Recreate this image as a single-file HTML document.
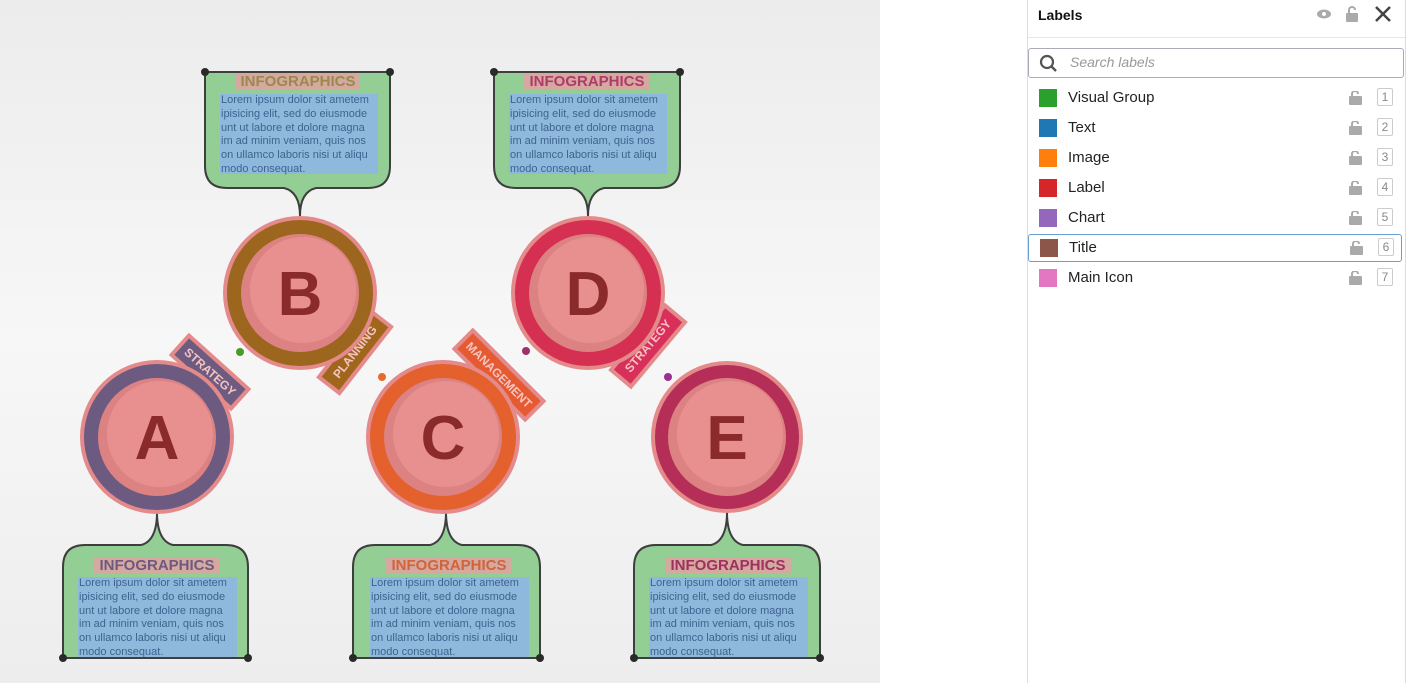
<!DOCTYPE html>
<html><head><meta charset="utf-8"><style>
body{margin:0;width:1406px;height:683px;overflow:hidden;background:#fff;font-family:"Liberation Sans",sans-serif;position:relative}
.t{position:absolute;font-weight:bold;font-size:15px;color:#9a8a4a;background:#d5a9a0;text-align:center;line-height:17px}
.b{position:absolute;font-size:11px;line-height:13.8px;color:#3f6290;background:#8fb9dc;white-space:pre;padding-left:1px}
.panel{position:absolute;left:1027px;top:0;width:377px;height:683px;border-left:1px solid #ddd;border-right:1px solid #ddd;background:#fff}
.row{position:absolute;left:0;width:373px;height:28px;font-size:15px;color:#222}
.row .sw{position:absolute;left:11px;top:5px;width:18px;height:18px}
.row .n{position:absolute;left:40px;top:5px}
.row .k{position:absolute;left:349px;top:4px;width:14px;height:16px;border:1px solid #ccc;border-radius:2px;font-size:12px;color:#888;text-align:center;line-height:16px}
.row .l{position:absolute;left:321px;top:7px}
</style></head><body>
<svg width="880" height="683" style="position:absolute;left:0;top:0">
<defs><linearGradient id="bg" x1="0" y1="0" x2="0" y2="1"><stop offset="0" stop-color="#ececec"/><stop offset="0.5" stop-color="#f7f7f7"/><stop offset="1" stop-color="#ededed"/></linearGradient></defs>
<rect width="880" height="683" fill="url(#bg)"/>
<g fill="#93cf95" stroke="#3e3e3e" stroke-width="2">
<path d="M205,72 L390,72 L390,166 Q390,188 368,188 L316,188 Q300,192 300,216 Q300,192 284,188 L227,188 Q205,188 205,166 Z"/>
<path d="M494,72 L680,72 L680,166 Q680,188 658,188 L604,188 Q588,192 588,216 Q588,192 572,188 L516,188 Q494,188 494,166 Z"/>
<path d="M63,658 L63,567 Q63,545 85,545 L141,545 Q157,541 157,512 Q157,541 173,545 L226,545 Q248,545 248,567 L248,658 Z"/>
<path d="M353,658 L353,567 Q353,545 375,545 L430,545 Q446,541 446,512 Q446,541 462,545 L518,545 Q540,545 540,567 L540,658 Z"/>
<path d="M634,658 L634,567 Q634,545 656,545 L711,545 Q727,541 727,512 Q727,541 743,545 L798,545 Q820,545 820,567 L820,658 Z"/>
</g>
<g fill="#2a2a2a"><circle cx="205" cy="72" r="4"/><circle cx="390" cy="72" r="4"/><circle cx="494" cy="72" r="4"/><circle cx="680" cy="72" r="4"/>
<circle cx="63" cy="658" r="4"/><circle cx="248" cy="658" r="4"/><circle cx="353" cy="658" r="4"/><circle cx="540" cy="658" r="4"/><circle cx="634" cy="658" r="4"/><circle cx="820" cy="658" r="4"/></g>
<g font-family="Liberation Sans" font-weight="bold" font-size="12" fill="#f4c4c4" text-anchor="middle">
<g transform="translate(210,372) rotate(42)"><rect x="-40" y="-13" width="80" height="26" fill="#6e5b80" stroke="#e48a8a" stroke-width="4"/><text y="4">STRATEGY</text></g>
<g transform="translate(355,352) rotate(-52)"><rect x="-42" y="-13" width="84" height="26" fill="#a0661c" stroke="#e48a8a" stroke-width="4"/><text y="4">PLANNING</text></g>
<g transform="translate(499,375) rotate(45)"><rect x="-50" y="-13" width="100" height="26" fill="#e55a30" stroke="#e48a8a" stroke-width="4"/><text y="4">MANAGEMENT</text></g>
<g transform="translate(648,346) rotate(-50)"><rect x="-42" y="-13" width="84" height="26" fill="#d8305a" stroke="#e48a8a" stroke-width="4"/><text y="4">STRATEGY</text></g>
</g>
<circle cx="240" cy="352" r="4" fill="#4a9a2a"/><circle cx="382" cy="377" r="4" fill="#e86a2a"/><circle cx="526" cy="351" r="4" fill="#a0306a"/><circle cx="668" cy="377" r="4" fill="#9a3090"/>
<g font-family="Liberation Sans" font-weight="bold" font-size="62" fill="#8a2a2a" text-anchor="middle">
<g transform="translate(300,293)"><circle r="77" fill="#e48a8a"/><circle r="73" fill="#9c661e"/><circle r="59" fill="#dc8282"/><circle cx="3" cy="-3" r="53" fill="#e89090"/><text y="22">B</text></g>
<g transform="translate(588,293)"><circle r="77" fill="#e48a8a"/><circle r="73" fill="#d52f52"/><circle r="59" fill="#dc8282"/><circle cx="3" cy="-3" r="53" fill="#e89090"/><text y="22">D</text></g>
<g transform="translate(157,437)"><circle r="77" fill="#e48a8a"/><circle r="73" fill="#6c5a80"/><circle r="59" fill="#dc8282"/><circle cx="3" cy="-3" r="53" fill="#e89090"/><text y="22">A</text></g>
<g transform="translate(443,437)"><circle r="77" fill="#e48a8a"/><circle r="73" fill="#e4602c"/><circle r="59" fill="#dc8282"/><circle cx="3" cy="-3" r="53" fill="#e89090"/><text y="22">C</text></g>
<g transform="translate(727,437)"><circle r="76" fill="#e48a8a"/><circle r="72" fill="#b42e58"/><circle r="59" fill="#dc8282"/><circle cx="3" cy="-3" r="53" fill="#e89090"/><text y="22">E</text></g>
</g>
</svg>
<div class="t" style="left:236px;top:73px;width:124px">INFOGRAPHICS</div>
<div class="b" style="left:220px;top:94px;width:157px;height:80px">Lorem ipsum dolor sit ametem
ipisicing elit, sed do eiusmode
unt ut labore et dolore magna
im ad minim veniam, quis nos
on ullamco laboris nisi ut aliqu
modo consequat.</div>
<div class="t" style="left:524px;top:73px;width:126px;color:#b03a6a">INFOGRAPHICS</div>
<div class="b" style="left:509px;top:94px;width:157px;height:80px">Lorem ipsum dolor sit ametem
ipisicing elit, sed do eiusmode
unt ut labore et dolore magna
im ad minim veniam, quis nos
on ullamco laboris nisi ut aliqu
modo consequat.</div>
<div class="t" style="left:94px;top:557px;width:126px;color:#6e5a80">INFOGRAPHICS</div>
<div class="b" style="left:78px;top:577px;width:158px;height:80px">Lorem ipsum dolor sit ametem
ipisicing elit, sed do eiusmode
unt ut labore et dolore magna
im ad minim veniam, quis nos
on ullamco laboris nisi ut aliqu
modo consequat.</div>
<div class="t" style="left:386px;top:557px;width:126px;color:#d0643a">INFOGRAPHICS</div>
<div class="b" style="left:370px;top:577px;width:158px;height:80px">Lorem ipsum dolor sit ametem
ipisicing elit, sed do eiusmode
unt ut labore et dolore magna
im ad minim veniam, quis nos
on ullamco laboris nisi ut aliqu
modo consequat.</div>
<div class="t" style="left:665px;top:557px;width:126px;color:#a03060">INFOGRAPHICS</div>
<div class="b" style="left:649px;top:577px;width:158px;height:80px">Lorem ipsum dolor sit ametem
ipisicing elit, sed do eiusmode
unt ut labore et dolore magna
im ad minim veniam, quis nos
on ullamco laboris nisi ut aliqu
modo consequat.</div>

<div class="panel">
<div style="position:absolute;left:10px;top:7px;font-weight:bold;font-size:14px;color:#111">Labels</div>
<svg style="position:absolute;left:288px;top:6px" width="80" height="20">
<ellipse cx="8" cy="8" rx="7" ry="4.5" fill="#aaa"/><circle cx="8" cy="8" r="2" fill="#fff"/>
<rect x="30" y="7" width="12" height="9" rx="1" fill="#aaa"/><path d="M33,7 V4 a3,3 0 0 1 6,0" fill="none" stroke="#aaa" stroke-width="2"/>
<path d="M60,1 L74,15 M74,1 L60,15" stroke="#444" stroke-width="2.5"/></svg>
<div style="position:absolute;left:0;top:37px;width:377px;border-top:1px solid #e6e6e6"></div>
<div style="position:absolute;left:0;top:48px;width:374px;height:28px;border:1px solid #aab;border-radius:3px"></div>
<svg style="position:absolute;left:11px;top:54px" width="20" height="20"><circle cx="8" cy="8" r="6" fill="none" stroke="#555" stroke-width="2.2"/><path d="M12,12 L17,17" stroke="#555" stroke-width="2.5"/></svg>
<div style="position:absolute;left:42px;top:54px;font-size:14px;font-style:italic;color:#999">Search labels</div>
<div class="row" style="top:84px"><div class="sw" style="background:#2ca02c"></div><div class="n">Visual Group</div><svg class="l" width="14" height="14"><rect x="0" y="5" width="13" height="9" rx="1" fill="#aaa"/><path d="M3,5 V3 a3,3 0 0 1 6,0" fill="none" stroke="#aaa" stroke-width="2"/></svg><div class="k">1</div></div>
<div class="row" style="top:114px"><div class="sw" style="background:#1f77b4"></div><div class="n">Text</div><svg class="l" width="14" height="14"><rect x="0" y="5" width="13" height="9" rx="1" fill="#aaa"/><path d="M3,5 V3 a3,3 0 0 1 6,0" fill="none" stroke="#aaa" stroke-width="2"/></svg><div class="k">2</div></div>
<div class="row" style="top:144px"><div class="sw" style="background:#ff7f0e"></div><div class="n">Image</div><svg class="l" width="14" height="14"><rect x="0" y="5" width="13" height="9" rx="1" fill="#aaa"/><path d="M3,5 V3 a3,3 0 0 1 6,0" fill="none" stroke="#aaa" stroke-width="2"/></svg><div class="k">3</div></div>
<div class="row" style="top:174px"><div class="sw" style="background:#d62728"></div><div class="n">Label</div><svg class="l" width="14" height="14"><rect x="0" y="5" width="13" height="9" rx="1" fill="#aaa"/><path d="M3,5 V3 a3,3 0 0 1 6,0" fill="none" stroke="#aaa" stroke-width="2"/></svg><div class="k">4</div></div>
<div class="row" style="top:204px"><div class="sw" style="background:#9467bd"></div><div class="n">Chart</div><svg class="l" width="14" height="14"><rect x="0" y="5" width="13" height="9" rx="1" fill="#aaa"/><path d="M3,5 V3 a3,3 0 0 1 6,0" fill="none" stroke="#aaa" stroke-width="2"/></svg><div class="k">5</div></div>
<div class="row" style="top:234px;border:1px solid #6a9fd4;border-radius:3px;height:26px;width:372px"><div class="sw" style="background:#8c564b;top:4px"></div><div class="n" style="top:4px">Title</div><svg class="l" width="14" height="14" style="top:6px"><rect x="0" y="5" width="13" height="9" rx="1" fill="#aaa"/><path d="M3,5 V3 a3,3 0 0 1 6,0" fill="none" stroke="#aaa" stroke-width="2"/></svg><div class="k" style="top:3px">6</div></div>
<div class="row" style="top:264px"><div class="sw" style="background:#e377c2"></div><div class="n">Main Icon</div><svg class="l" width="14" height="14"><rect x="0" y="5" width="13" height="9" rx="1" fill="#aaa"/><path d="M3,5 V3 a3,3 0 0 1 6,0" fill="none" stroke="#aaa" stroke-width="2"/></svg><div class="k">7</div></div>
</div>
</body></html>
